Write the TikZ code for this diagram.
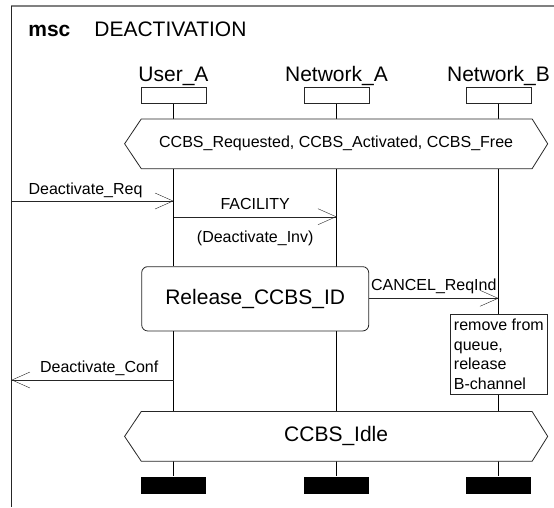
\documentclass[tikz,border=0pt]{standalone}
\usepackage{fontspec}
\setmainfont{Liberation Sans}
\usetikzlibrary{arrows.meta}
\pgfdeclarelayer{background}
\pgfsetlayers{background,main}
\begin{document}
\begin{tikzpicture}[x=1pt,y=-1pt,line width=0.8pt,draw=black!85,
  big/.style={font=\fontsize{21}{25}\selectfont},
  small/.style={font=\fontsize{16}{19.5}\selectfont},
  headbox/.style={draw,fill=white,minimum width=65pt,minimum height=15.6pt,inner sep=0pt},
  stopbar/.style={fill=black,minimum width=65pt,minimum height=17.3pt,inner sep=0pt},
  condbox/.style={minimum width=422.3pt,minimum height=49pt,inner sep=0pt},
  msg/.style={-{Straight Barb[length=18pt,width=16pt]}},
  lbl/.style={small,inner sep=0pt}]
\useasboundingbox (0,0) rectangle (554,507);
% frame
\draw[gray,line width=2pt] (11,6) -- (554,6);
\draw (11.5,6) -- (11.5,507);
\node[big,anchor=base west,inner sep=0pt] (kw) at (28,36.7) {\bfseries msc};
\node[big,anchor=base west,inner sep=0pt] (title) at (94,36.7) {DEACTIVATION};
% instance names and heads
\node[big,anchor=base,inner sep=0pt] (nA) at (173.5,81.7) {User\_A};
\node[big,anchor=base,inner sep=0pt] (nNA) at (336.5,81.7) {Network\_A};
\node[big,anchor=base,inner sep=0pt] (nNB) at (498.5,81.7) {Network\_B};
\node[headbox] (hA) at (173.5,95.5) {};
\node[headbox] (hNA) at (336.5,95.5) {};
\node[headbox] (hNB) at (498.5,95.5) {};
% condition 1
\node[condbox] (c1) at (336.15,143.8) {};
\draw[fill=white] (c1.west) -- ([xshift=16.7pt]c1.north west) -- ([xshift=-15.6pt]c1.north east) -- (c1.east) -- ([xshift=-15.6pt]c1.south east) -- ([xshift=16.7pt]c1.south west) -- cycle;
\node[lbl] (c1t) at (c1.center) {CCBS\_Requested, CCBS\_Activated, CCBS\_Free};
% release box
\node[draw,fill=white,rounded corners=6pt,minimum width=227pt,minimum height=64.3pt,big] (rel) at (255.2,298.8) {Release\_CCBS\_ID};
% action box
\node[draw,fill=white,small,align=left,minimum width=97.7pt,minimum height=80pt,inner sep=0pt] (act) at (498.85,354.3) {remove from\\queue,\\release\\B-channel};
% condition 2
\node[condbox] (c2) at (336.15,436.4) {};
\draw[fill=white] (c2.west) -- ([xshift=16.7pt]c2.north west) -- ([xshift=-15.6pt]c2.north east) -- (c2.east) -- ([xshift=-15.6pt]c2.south east) -- ([xshift=16.7pt]c2.south west) -- cycle;
\node[big,inner sep=0pt] (c2t) at (c2.center) {CCBS\_Idle};
% stops
\node[stopbar] (sA) at (173.5,485.3) {};
\node[stopbar] (sNA) at (336.5,485.3) {};
\node[stopbar] (sNB) at (498.5,485.3) {};
% lifelines
\begin{pgfonlayer}{background}
\draw (hA.south) -- (hA.south |- c1.north);
\draw (hNA.south) -- (hNA.south |- c1.north);
\draw (hNB.south) -- (hNB.south |- c1.north);
\draw (hA.south |- c1.south) -- (hA.south |- rel.north);
\draw (hA.south |- rel.south) -- (hA.south |- c2.north);
\draw (hNA.south |- c1.south) -- (hNA.south |- c2.north);
\draw (hNB.south |- c1.south) -- (hNB.south |- act.north);
\draw (hNB.south |- act.south) -- (hNB.south |- c2.north);
\draw (hA.south |- c2.south) -- (sA.north);
\draw (hNA.south |- c2.south) -- (sNA.north);
\draw (hNB.south |- c2.south) -- (sNB.north);
\end{pgfonlayer}
% messages
\coordinate (envReq) at (11.5,201);
\draw[msg] (envReq) -- (envReq -| hA.south);
\node[lbl] (lReq) at (85.5,190) {Deactivate\_Req};
\coordinate (fac) at (173.5,216.7);
\draw[msg] (fac) -- (fac -| hNA.south);
\node[lbl] (lFac) at (255.2,204) {FACILITY};
\node[lbl] (lInv) at (255.2,238) {(Deactivate\_Inv)};
\coordinate (can) at (368.7,298.3);
\draw[msg] (rel.east |- can) -- (can -| hNB.south);
\node[lbl] (lCan) at (433.8,286.7) {CANCEL\_ReqInd};
\coordinate (envConf) at (11.5,380);
\draw[msg] (envConf -| hA.south) -- (envConf);
\node[lbl] (lConf) at (99.2,368.3) {Deactivate\_Conf};
\end{tikzpicture}
\end{document}
